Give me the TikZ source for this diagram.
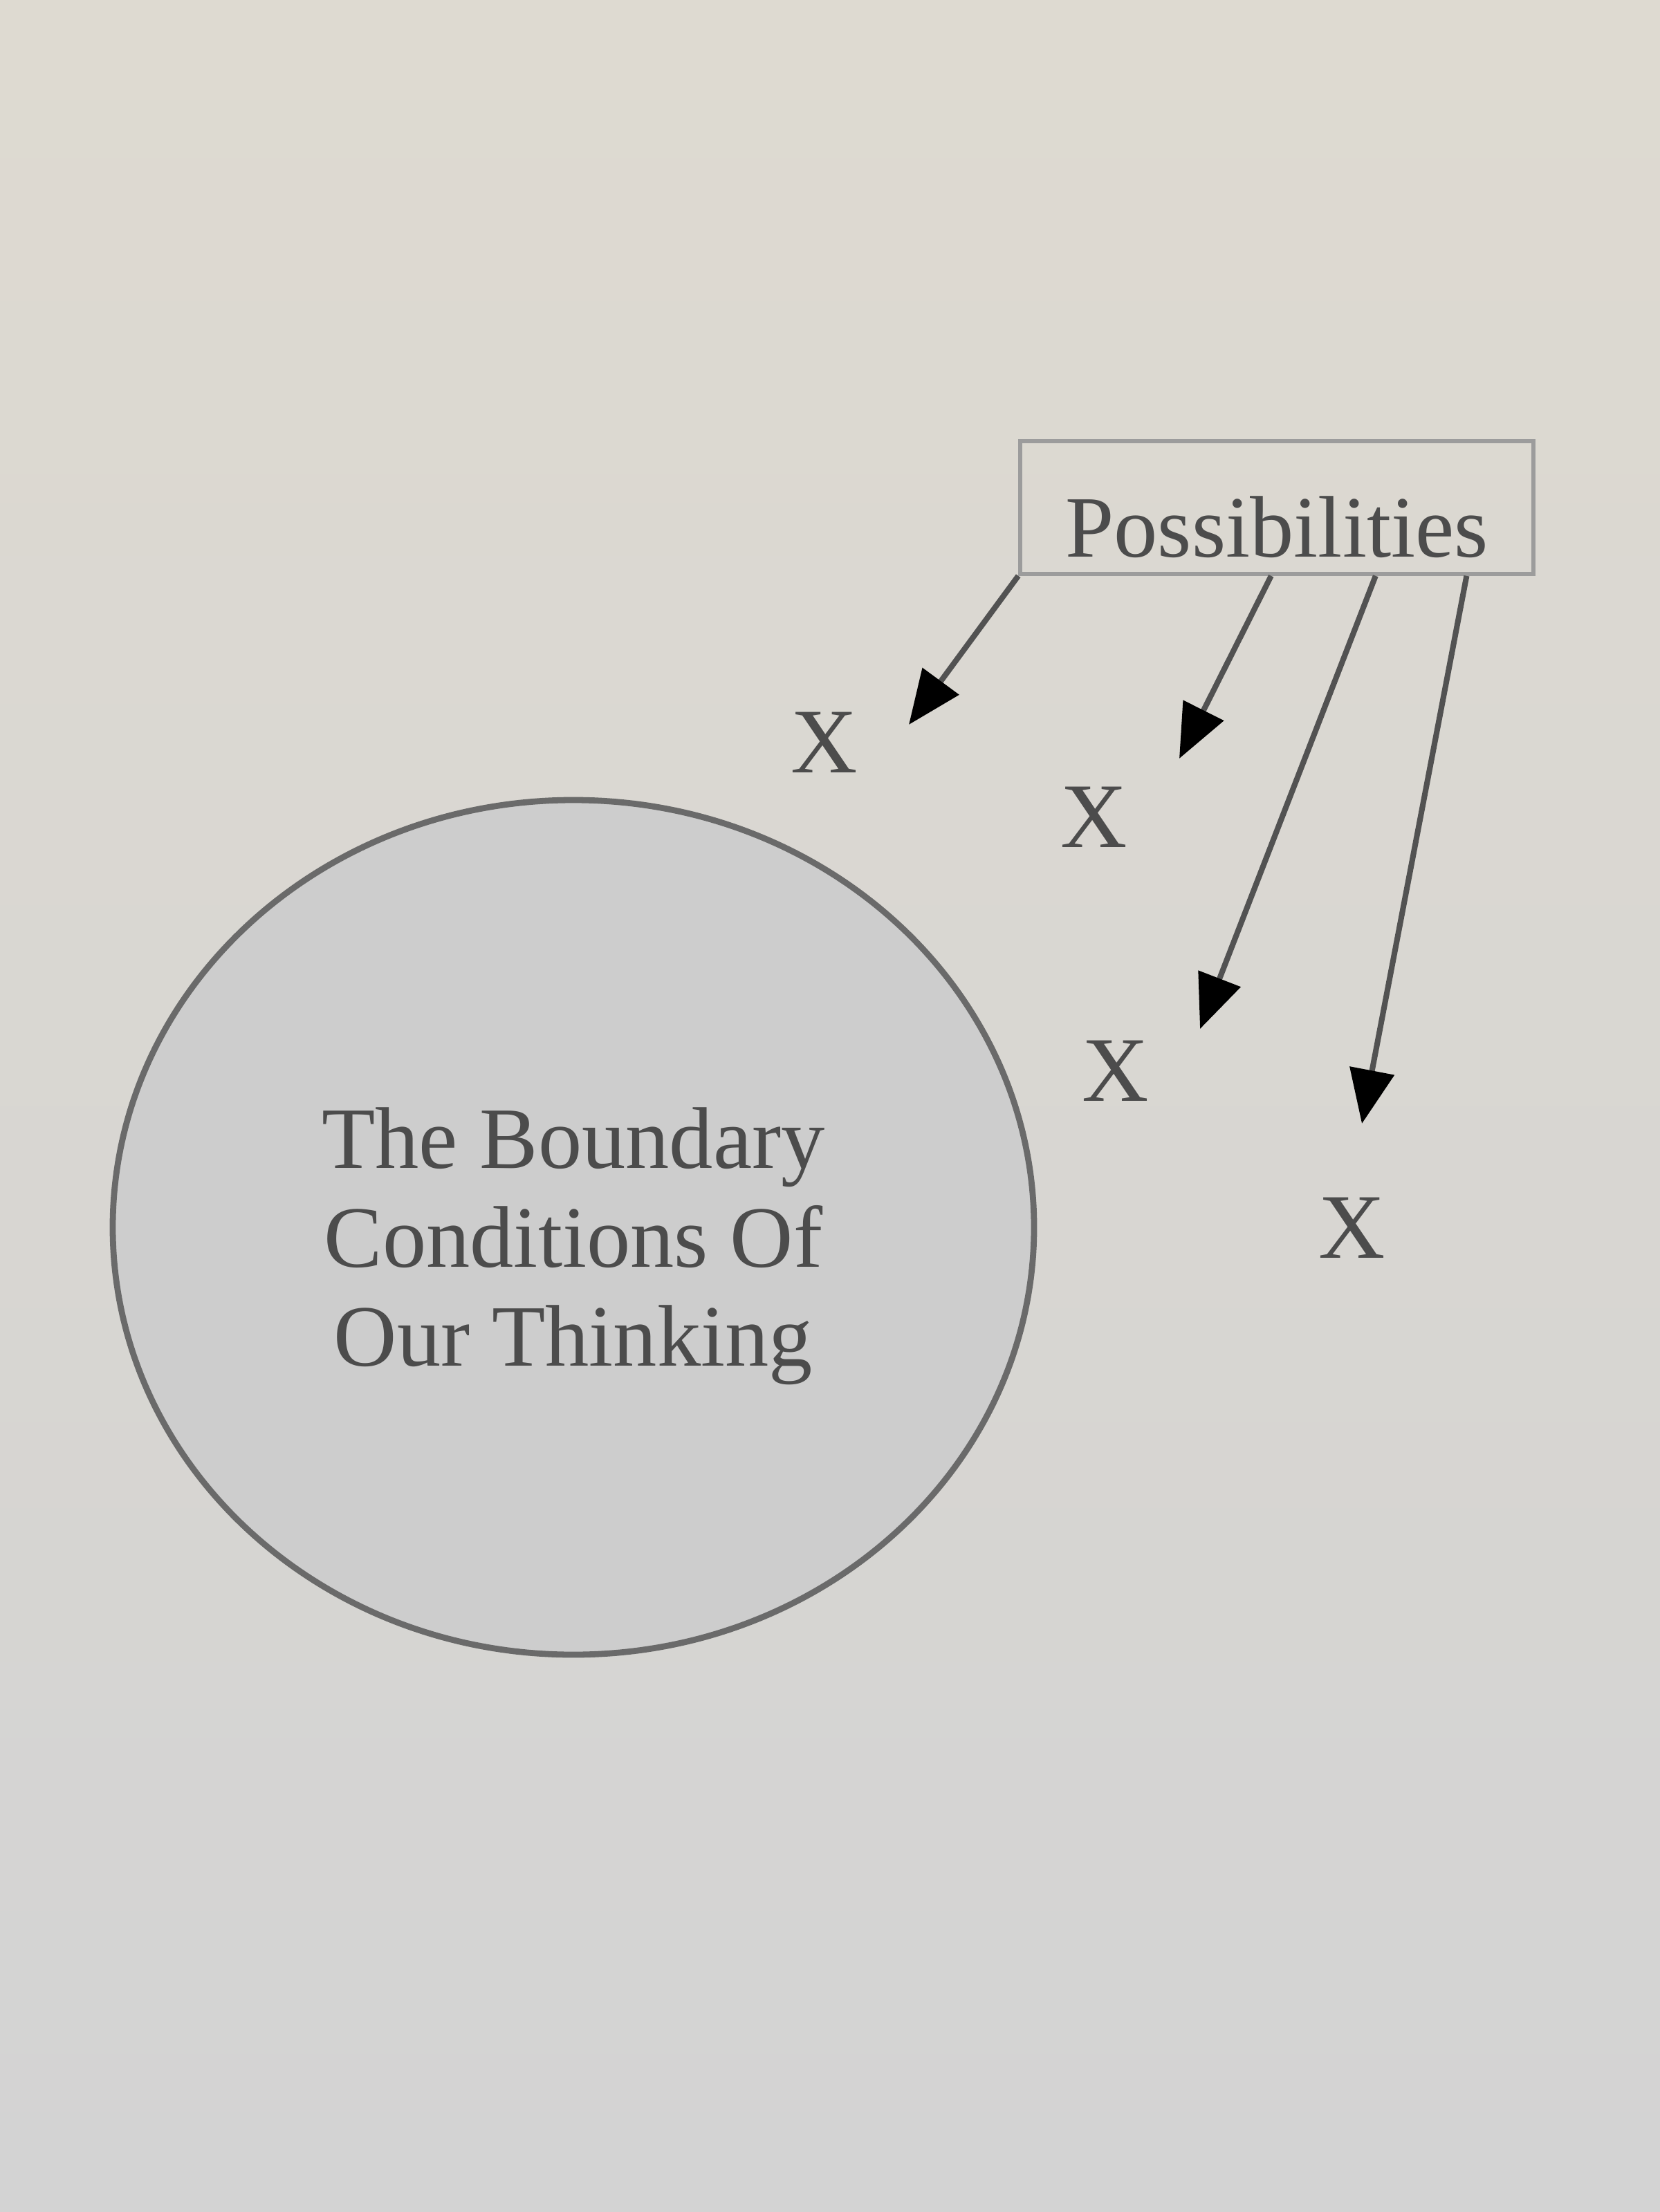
\documentclass[tikz,border=0pt]{standalone}
\usepackage{fontspec}
\setmainfont{Liberation Serif}
\usepackage{tikz}
\usetikzlibrary{calc}
\usetikzlibrary{shapes.geometric}
\usetikzlibrary{arrows.meta}
\definecolor{paper}{HTML}{F1F0ED}
\definecolor{papertop}{HTML}{DEDAD1}
\definecolor{paperbot}{HTML}{D3D3D3}
\definecolor{inkgray}{HTML}{4C4C4C}
\definecolor{rimgray}{HTML}{6A6A6A}
\definecolor{discgray}{HTML}{CDCDCD}
\definecolor{boxgray}{HTML}{9C9C9C}
\colorlet{shaftgray}{black!68}
\tikzset{every node/.style={font=\rmfamily}}
\tikzset{
  possbox/.style={draw=boxgray, line width=1.6pt, minimum width=7.42cm, minimum height=1.92cm,
                  inner ysep=0pt, text height=1.45cm, text=inkgray, font=\fontsize{36}{40}\selectfont},
  boundary/.style={ellipse, draw=rimgray, fill=discgray, line width=2.5pt,
                   minimum width=13.32cm, minimum height=12.36cm, inner sep=0pt},
  boundtext/.style={text=inkgray, align=center, font=\fontsize{36}{40.7}\selectfont},
  xmark/.style={text=inkgray, font=\fontsize{38}{40}\selectfont, inner sep=0pt},
  possarrow/.style={draw=shaftgray, line width=2.3pt,
                    -{Triangle[length=0.78cm, width=0.64cm, color=black, fill=black]}}
}

\begin{document}
\begin{tikzpicture}

  % photo background
  \shade[top color=papertop, middle color=paper, bottom color=paperbot]
    (0,0) rectangle (24,-31.99);
  \useasboundingbox (0,0) rectangle (24,-31.99);

  % the circle
  \node[boundary] (bound) at (8.29,-17.75) {};
  \node[boundtext] (btext) at ($(bound.center)+(0,-0.27)$) {The Boundary\\Conditions Of\\Our Thinking};

  % the box
  \node[possbox] (poss) at (18.46,-7.34) {Possibilities};

  % the marks
  \node[xmark] (x1) at (11.92,-10.74) {X};
  \node[xmark] (x2) at (15.82,-11.82) {X};
  \node[xmark] (x3) at (16.13,-15.49) {X};
  \node[xmark] (x4) at (19.55,-17.76) {X};

  % where the arrows start and end
  \coordinate (s1) at (poss.south west);
  \coordinate (s2) at ($(poss.south west)!0.489!(poss.south east)$);
  \coordinate (s3) at ($(poss.south west)!0.691!(poss.south east)$);
  \coordinate (s4) at ($(poss.south west)!0.867!(poss.south east)$);

  \coordinate (t1) at (13.14,-10.48);
  \coordinate (t2) at (17.05,-10.97);
  \coordinate (t3) at (17.35,-14.88);
  \coordinate (t4) at (19.69,-16.25);

  \draw[possarrow] (s1) -- (t1);
  \draw[possarrow] (s2) -- (t2);
  \draw[possarrow] (s3) -- (t3);
  \draw[possarrow] (s4) -- (t4);

\end{tikzpicture}
\end{document}
